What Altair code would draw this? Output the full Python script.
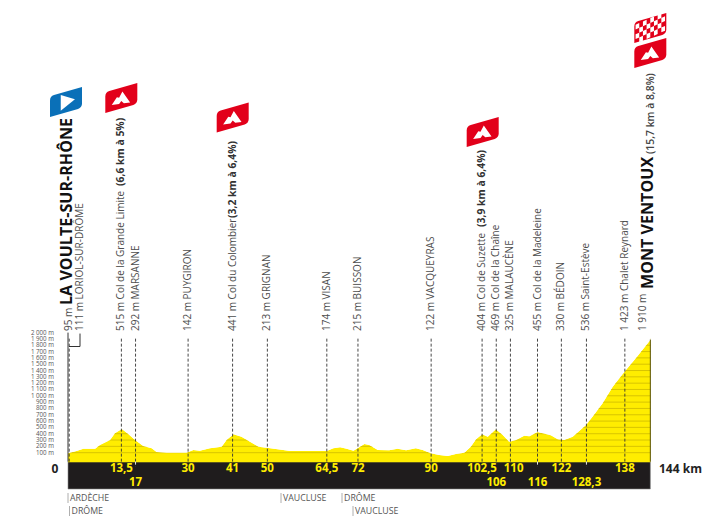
import altair as alt
import pandas as pd

# --- profile ---
prof_km = [0, 2.1, 3.8, 6.7, 7.9, 10.4, 11.6, 13.3, 14.9, 16.6, 18.6, 20.7, 21.9, 24.4, 29.3, 31.0, 32.6, 35.1, 38.0,
           39.2, 40.9, 42.9, 45.0, 47.1, 49.1, 53.2, 54.9, 64.0, 65.6, 67.3, 68.9, 70.6, 73.3, 74.5, 76.6, 79.4, 81.5,
           83.6, 86.0, 87.7, 89.7, 91.8, 93.9, 95.9, 98.0, 99.6, 100.9, 102.4, 103.8, 105.8, 107.5, 109.1, 110.8,
           112.8, 114.1, 116.1, 119.4, 121.1, 122.7, 124.8, 128.1, 129.7, 132.2, 134.7, 137.6, 140.4, 144]
prof_m = [90, 127, 163, 163, 222, 301, 406, 475, 396, 301, 206, 169, 111, 100, 100, 142, 132, 169, 195,
          301, 390, 353, 274, 195, 179, 142, 127, 127, 169, 185, 163, 132, 237, 222, 142, 137, 163,
          137, 169, 142, 90, 63, 47, 79, 100, 195, 311, 390, 353, 469, 380, 274, 301,
          369, 359, 427, 374, 311, 301, 353, 538, 670, 881, 1144, 1382, 1593, 1883]

tick_m = list(range(100, 2001, 100))
tick_txt = [f"{m} m" if m < 1000 else f"{m//1000} {m%1000:03d} m" for m in tick_m]

# dashed markers: km position, text
lab_km = [0.3, 13.2, 16.7, 29.7, 40.7, 49.3, 64, 71.7, 89.8, 102.4, 105.9, 109.4, 116.1, 122, 128.2, 137.7]
lab_reg = ["95 m", "515 m Col de la Grande Limite", "292 m MARSANNE", "142 m PUYGIRON", "441 m Col du Colombier",
           "213 m GRIGNAN", "174 m VISAN", "215 m BUISSON", "122 m VACQUEYRAS", "404 m Col de Suzette",
           "469 m Col de la Chaîne", "325 m MALAUCÈNE", "455 m Col de la Madeleine", "330 m BÉDOIN",
           "536 m Saint-Estève", "1 423 m Chalet Reynard"]
km_row1 = ["13,5", "30", "41", "50", "64,5", "72", "90", "102,5", "110", "122", "138"]
km_row1_x = [13.2, 29.7, 40.7, 49.3, 64, 71.7, 89.8, 102.4, 110.2, 122, 137.7]
km_row2 = ["17", "106", "116", "128,3"]
km_row2_x = [16.7, 105.9, 116.1, 128.2]
white_dash_km = [16.7, 116.1, 128.2]

FONT = "Open Sans"
GREY = "#4d4d4d"
DARK = "#1f1c1d"
W, H = 696, 511
PX_KM = 4.044
X0 = 60           # chart px of km 0
Y0 = 451          # chart px of 0 m
PX_M = 0.0632
BASE = -42        # top of black band, m
BOTTOM = -475     # bottom of band, m

xs = alt.Scale(domain=[-X0 / PX_KM, (W - X0) / PX_KM], range=[0, W], nice=False, zero=False)
ys = alt.Scale(domain=[(Y0 - H) / PX_M, Y0 / PX_M], range=[H, 0], nice=False, zero=False)
X = alt.X("km:Q", scale=xs, axis=None)
Y = alt.Y("m:Q", scale=ys, axis=None)
YP = alt.Y("yp:Q", scale=None, axis=None)


def k(px):  # page px -> km
    return (px - 68) / PX_KM


prof = pd.DataFrame({"km": prof_km, "m": prof_m})
layers = []

# yellow profile + stripes + white mask above the profile
layers.append(alt.Chart(prof).mark_area(color="#ffed00", interpolate="linear").encode(
    x=X, y=Y, y2=alt.datum(BASE)))
stripes = pd.DataFrame({"m": tick_m[:-1], "km": 0.0, "km2": 144.0})
layers.append(alt.Chart(stripes).mark_rule(color="#d4bf00", strokeWidth=0.9).encode(
    x=X, x2="km2:Q", y=Y))
layers.append(alt.Chart(prof).mark_area(color="#ffffff", interpolate="linear").encode(
    x=X, y=Y, y2=alt.datum(1990)))

# black band
band = pd.DataFrame({"km": [0.0], "km2": [144.0], "m": [BASE], "m2": [BOTTOM]})
layers.append(alt.Chart(band).mark_rect(color=DARK, stroke="#8a8a8a", strokeWidth=0.6).encode(
    x=X, x2="km2:Q", y=Y, y2="m2:Q"))
layers.append(alt.Chart(band).mark_rule(color="#ffed00", strokeWidth=1.4).encode(
    x=X, x2="km2:Q", y=Y))

# axis lines
axis = pd.DataFrame({"km": [0.0], "m": [BASE], "m2": [2000]})
layers.append(alt.Chart(axis).mark_rule(color="#333333", strokeWidth=1).encode(x=X, y=Y, y2="m2:Q"))
axis_r = pd.DataFrame({"km": [144.0], "m": [BASE], "m2": [1890]})
layers.append(alt.Chart(axis_r).mark_rule(color="#5a5200", strokeWidth=1).encode(x=X, y=Y, y2="m2:Q"))

# dashed markers
dash = pd.DataFrame({"km": lab_km, "m": BASE, "m2": 1935})
layers.append(alt.Chart(dash).mark_rule(color="#333333", strokeWidth=0.9, strokeDash=[3, 2]).encode(
    x=X, y=Y, y2="m2:Q"))
wd = pd.DataFrame({"km": white_dash_km, "m": BASE, "m2": BASE - 80})
layers.append(alt.Chart(wd).mark_rule(color="#ffffff", strokeWidth=0.9, strokeDash=[3, 2]).encode(
    x=X, y=Y, y2="m2:Q"))

# bracket of Loriol
br = pd.DataFrame({"km": [k(80)], "m": [1985], "m2": [1780]})
layers.append(alt.Chart(br).mark_rule(color="#333333", strokeWidth=1).encode(x=X, y=Y, y2="m2:Q"))
br2 = pd.DataFrame({"km": [k(69)], "km2": [k(80)], "m": [1780]})
layers.append(alt.Chart(br2).mark_rule(color="#333333", strokeWidth=1).encode(x=X, x2="km2:Q", y=Y))

# altitude tick labels
ticks = pd.DataFrame({"m": tick_m, "t": tick_txt, "km": k(54)})
layers.append(alt.Chart(ticks).mark_text(font=FONT, fontSize=6.2, align="right", baseline="middle", color="#555555")
              .encode(x=X, y=Y, text="t:N"))


def vtext(rows, size, weight, color):
    df = pd.DataFrame(rows, columns=["km", "yp", "t"])
    return alt.Chart(df).mark_text(font=FONT, fontSize=size, fontWeight=weight, angle=270, align="left",
                                   baseline="middle", color=color).encode(x=X, y=YP, text="t:N")


START = 323
reg_rows = [(km, START, t) for km, t in zip(lab_km, lab_reg)]
reg_rows += [(k(80), START, "111 m LORIOL-SUR-DRÔME"), (k(642.5), START, "1 910 m")]
layers.append(vtext(reg_rows, 10, 400, GREY))
layers.append(vtext([(13.2, 178, "(6,6 km à 5%)"), (40.7, 210, "(3,2 km à 6,4%)"), (102.4, 219, "(3,9 km à 6,4%)")],
                    10.4, 700, "#333333"))
layers.append(vtext([(k(650.5), 146, "(15,7 km à 8,8%)")], 10.4, 600, "#444444"))
layers.append(vtext([(k(66.7), 297, "LA VOULTE-SUR-RHÔNE"), (k(648), 281, "MONT VENTOUX")], 16.1, 700, "#111111"))

# band labels
def htext(xv, yp, txt, size, weight, color, align="center"):
    df = pd.DataFrame({"km": xv, "yp": yp, "t": txt})
    return alt.Chart(df).mark_text(font=FONT, fontSize=size, fontWeight=weight, align=align, baseline="middle",
                                   color=color).encode(x=X, y=YP, text="t:N")


layers.append(htext(km_row1_x, [461] * len(km_row1), km_row1, 11.5, 700, "#ffed00"))
layers.append(htext(km_row2_x, [474.5] * len(km_row2), km_row2, 11.5, 700, "#ffed00"))
layers.append(htext([k(55)], [461], ["0"], 12, 700, "#222222"))
layers.append(htext([k(659)], [461], ["144 km"], 12, 700, "#222222", "left"))

# departments
dep_x = [k(68), k(69.5), k(281), k(342), k(353)]
dep_y = [490, 503, 490, 490, 503]
dep_t = ["ARDÈCHE", "DRÔME", "VAUCLUSE", "DRÔME", "VAUCLUSE"]
layers.append(htext([x + 0.5 for x in dep_x], dep_y, dep_t, 8.8, 400, "#555555", "left"))
bars = pd.DataFrame({"km": dep_x, "yp": [y - 5 for y in dep_y], "yp2": [y + 5 for y in dep_y]})
layers.append(alt.Chart(bars).mark_rule(color="#9a9a9a", strokeWidth=0.8).encode(x=X, y=YP, y2="yp2:Q"))

# flags
FLAG = "M-1,0.93 L-1,-0.1 Q-1,-0.35 -0.75,-0.43 L1,-0.93 L1,0.1 Q1,0.35 0.75,0.43 Z"
MOUNT = "M-0.52,0.38 L-0.24,-0.04 L-0.12,-0.02 L0.06,-0.36 L0.48,0.24 L0.14,0.28 L0.0,0.16 L-0.12,0.32 Z"
PLAY = "M-0.33,-0.44 L0.56,-0.17 L-0.33,0.54 Z"
cells = []
for i in range(8):
    for j in range(4):
        if (i + j) % 2 == 0:
            x0, x1 = -0.92 + i * 0.23, -0.92 + (i + 1) * 0.23
            top = -0.62 + j * 0.3
            cells.append(f"M{x0:.2f},{top - 0.45 * x0:.2f} L{x1:.2f},{top - 0.45 * x1:.2f} "
                         f"L{x1:.2f},{top + 0.3 - 0.45 * x1:.2f} L{x0:.2f},{top + 0.3 - 0.45 * x0:.2f} Z")
CHECK = " ".join(cells)


def icon(path, color, xv, yp, size=1024):
    df = pd.DataFrame({"km": xv, "yp": yp})
    return alt.Chart(df).mark_point(shape=path, size=size, filled=True, color=color, opacity=1, strokeWidth=0).encode(
        x=X, y=YP)


red_x, red_y = [k(121.3), k(232.7), k(482.7), k(650.3)], [90, 109.5, 124, 45]
layers.append(icon(FLAG, "#0a70b8", [k(66)], [94]))
layers.append(icon(PLAY, "#ffffff", [k(66)], [94]))
layers.append(icon(FLAG, "#e2001a", red_x, red_y))
layers.append(icon(MOUNT, "#ffffff", red_x, red_y, 1350))
layers.append(icon(FLAG, "#e2001a", [k(650.3)], [20]))
layers.append(icon(CHECK, "#ffffff", [k(650.3)], [20]))

chart = alt.layer(*layers).properties(width=W, height=H, padding=0, autosize=alt.AutoSizeParams(type="none"),
                                      background="#ffffff").configure_view(stroke=None)
chart.save("out.html", embed_options={"renderer": "svg", "actions": False})
